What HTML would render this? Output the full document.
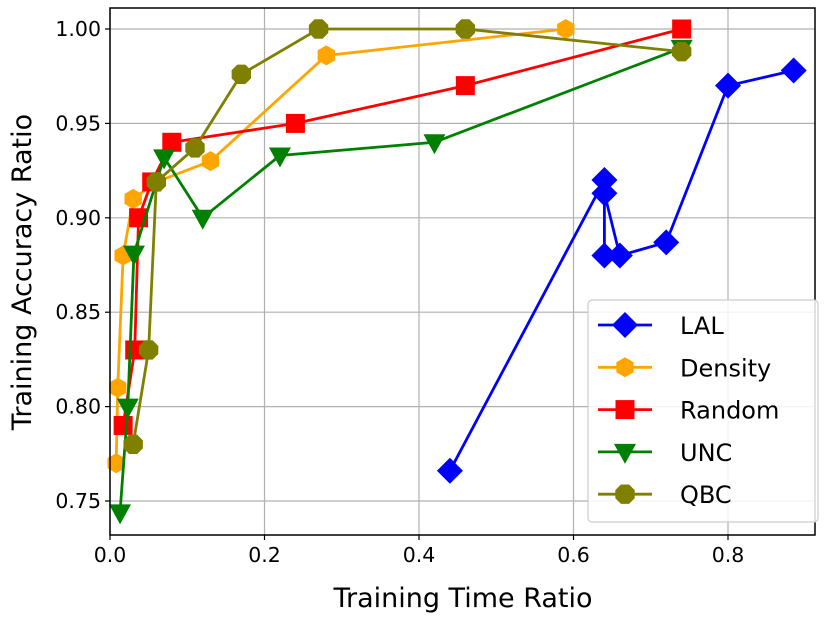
<!DOCTYPE html>
<html><head><meta charset="utf-8"><style>
body{margin:0;background:#fff}
svg{font-family:"DejaVu Sans","Liberation Sans",sans-serif}
</style></head><body>
<svg id="c" width="830" height="613"></svg>
<script>
const xTicks=[0.0,0.2,0.4,0.6,0.8];
const yTicks=[0.75,0.80,0.85,0.90,0.95,1.00];
const seriesNames=["LAL","Density","Random","UNC","QBC"];
const lalX=[0.44,0.64,0.64,0.64,0.66,0.72,0.80,0.885];
const lalY=[0.766,0.92,0.88,0.913,0.88,0.887,0.97,0.978];
const densX=[0.008,0.01,0.017,0.03,0.06,0.13,0.28,0.59];
const densY=[0.77,0.81,0.88,0.91,0.919,0.93,0.986,1.0];
const randX=[0.017,0.032,0.037,0.054,0.08,0.24,0.46,0.74];
const randY=[0.79,0.83,0.90,0.919,0.94,0.95,0.97,1.0];
const uncX=[0.013,0.023,0.031,0.07,0.12,0.22,0.42,0.74];
const uncY=[0.744,0.80,0.881,0.932,0.90,0.933,0.94,0.99];
const qbcX=[0.03,0.05,0.06,0.11,0.17,0.27,0.46,0.74];
const qbcY=[0.78,0.83,0.919,0.937,0.976,1.0,1.0,0.988];

const L=110,R=815,T=8,B=535;
const sx=v=>110+v*772.5;
const sy=v=>29+(1.0-v)*1888;
const NS="http://www.w3.org/2000/svg";
const svg=document.getElementById('c');
function mk(t,a,p){const e=document.createElementNS(NS,t);for(const k in a)e.setAttribute(k,a[k]);(p||svg).appendChild(e);return e;}
const grid=mk('g',{});


xTicks.forEach(v=>{mk('line',{x1:sx(v),x2:sx(v),y1:T,y2:B,stroke:'#b0b0b0','stroke-width':1.2},grid);});
yTicks.forEach(v=>{mk('line',{x1:L,x2:R,y1:sy(v),y2:sy(v),stroke:'#b0b0b0','stroke-width':1.2},grid);});
const xa=mk('g',{});


xTicks.forEach(v=>{mk('line',{x1:sx(v),x2:sx(v),y1:B,y2:B+5,stroke:'#000','stroke-width':1.2},xa);
 const t=mk('text',{x:sx(v),y:B+27,'text-anchor':'middle','font-size':20.5},xa);t.textContent=v.toFixed(1);});
const ya=mk('g',{});


yTicks.forEach(v=>{mk('line',{x1:L-5,x2:L,y1:sy(v),y2:sy(v),stroke:'#000','stroke-width':1.2},ya);
 const t=mk('text',{x:L-9,y:sy(v)+7,'text-anchor':'end','font-size':20.5},ya);t.textContent=v.toFixed(2);});
const xt=mk('text',{x:463,y:607,'text-anchor':'middle','font-size':27});xt.textContent='Training Time Ratio';


const yt=mk('text',{x:0,y:0,'text-anchor':'middle','font-size':27,transform:'translate(31,272) rotate(-90)'});yt.textContent='Training Accuracy Ratio';



function marker(kind,x,y,color,p){
 if(kind==='D')return mk('polygon',{points:`${x},${y-13} ${x+13},${y} ${x},${y+13} ${x-13},${y}`,fill:color},p);
 if(kind==='H'){let pts=[];for(let i=0;i<6;i++){const a=Math.PI/6+i*Math.PI/3;pts.push((x+10*Math.cos(a))+','+(y+10*Math.sin(a)));}return mk('polygon',{points:pts.join(' '),fill:color},p);}
 if(kind==='S')return mk('rect',{x:x-9.5,y:y-9.5,width:19,height:19,fill:color},p);
 if(kind==='V')return mk('polygon',{points:`${x-11},${y-8} ${x+11},${y-8} ${x},${y+12}`,fill:color},p);
 if(kind==='O'){let pts=[];for(let i=0;i<8;i++){const a=Math.PI/8+i*Math.PI/4;pts.push((x+10.5*Math.cos(a))+','+(y+10.5*Math.sin(a)));}return mk('polygon',{points:pts.join(' '),fill:color},p);}
}
const defs=[[lalX,lalY,'#0000ff','D','lal'],[densX,densY,'#ffa500','H','density'],[randX,randY,'#ff0000','S','random'],[uncX,uncY,'#008000','V','unc'],[qbcX,qbcY,'#808000','O','qbc']];
defs.forEach(([xs,ys,c,k,n])=>{
 const g=mk('g',{});
 
 
 mk('polyline',{points:xs.map((x,i)=>sx(x)+','+sy(ys[i])).join(' '),fill:'none',stroke:c,'stroke-width':2.8},g);
 xs.forEach((x,i)=>{const m=marker(k,sx(x),sy(ys[i]),c,g);
  
  });
});
mk('rect',{x:L,y:T,width:R-L,height:B-T,fill:'none',stroke:'#000','stroke-width':1.5});
const lg=mk('g',{});


mk('rect',{x:588,y:300,width:230,height:222,rx:4,fill:'#fff','fill-opacity':0.85,stroke:'#ccc','stroke-width':1.2},lg);
defs.forEach(([xs,ys,c,k,n],i)=>{
 const y=325+i*42.3;
 const e=mk('g',{},lg);
 
 
 mk('line',{x1:598,x2:652,y1:y,y2:y,stroke:c,'stroke-width':2.8},e);
 marker(k,625,y,c,e);
 const t=mk('text',{x:680,y:y+9,'font-size':24},e);t.textContent=seriesNames[i];
});
</script>
</body></html>
